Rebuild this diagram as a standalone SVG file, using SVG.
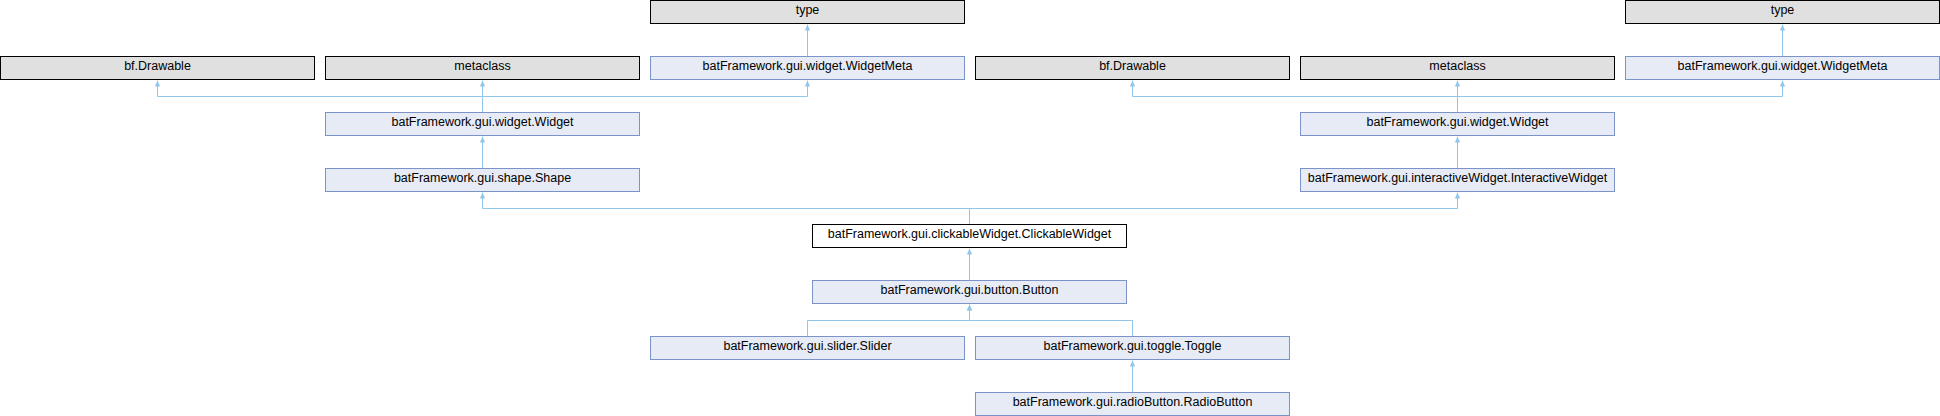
<svg xmlns="http://www.w3.org/2000/svg" width="1940" height="416" viewBox="0 0 1940 416">
<style>
.n rect{stroke-width:1}
.g rect{fill:#e0e0e0;stroke:#000000}
.b rect{fill:#e7ebf5;stroke:#7b93c8}
.w rect{fill:#ffffff;stroke:#000000}
text{font-family:"Liberation Sans",Arial,sans-serif;font-size:12.5px;fill:#000000;text-anchor:middle}
.e path{fill:none;stroke:#8fc6ea;stroke-width:1}
</style>
<defs>
<marker id="arr" markerUnits="userSpaceOnUse" markerWidth="6" markerHeight="6" viewBox="0 0 6 6" refX="6" refY="3" orient="auto">
<path d="M0,0.4 L6,3 L0,5.6 z" fill="#8fc6ea"/>
</marker>
</defs>
<rect width="1940" height="416" fill="#ffffff"/>
<g class="e" id="connectors">
<path d="M807.5,56 V24.5" marker-end="url(#arr)"/>
<path d="M1782.5,56 V24.5" marker-end="url(#arr)"/>
<path d="M482.5,112 V96.5 H157.5 V80.5" marker-end="url(#arr)"/>
<path d="M482.5,112 V80.5" marker-end="url(#arr)"/>
<path d="M482.5,112 V96.5 H807.5 V80.5" marker-end="url(#arr)"/>
<path d="M1457.5,112 V96.5 H1132.5 V80.5" marker-end="url(#arr)"/>
<path d="M1457.5,112 V80.5" marker-end="url(#arr)"/>
<path d="M1457.5,112 V96.5 H1782.5 V80.5" marker-end="url(#arr)"/>
<path d="M482.5,168 V136.5" marker-end="url(#arr)"/>
<path d="M1457.5,168 V136.5" marker-end="url(#arr)"/>
<path d="M969.5,224 V208.5 H482.5 V192.5" marker-end="url(#arr)"/>
<path d="M969.5,224 V208.5 H1457.5 V192.5" marker-end="url(#arr)"/>
<path d="M969.5,280 V248.5" marker-end="url(#arr)"/>
<path d="M807.5,336 V320.5 H969.5 V304.5" marker-end="url(#arr)"/>
<path d="M1132.5,336 V320.5 H969.5 V304.5" marker-end="url(#arr)"/>
<path d="M1132.5,392 V360.5" marker-end="url(#arr)"/>
</g>
<g id="type1" class="n g"><rect x="650.5" y="0.5" width="314" height="23"/><text x="807.5" y="14">type</text></g>
<g id="type2" class="n g"><rect x="1625.5" y="0.5" width="314" height="23"/><text x="1782.5" y="14">type</text></g>
<g id="drawable1" class="n g"><rect x="0.5" y="56.5" width="314" height="23"/><text x="157.5" y="70">bf.Drawable</text></g>
<g id="metaclass1" class="n g"><rect x="325.5" y="56.5" width="314" height="23"/><text x="482.5" y="70">metaclass</text></g>
<g id="widgetmeta1" class="n b"><rect x="650.5" y="56.5" width="314" height="23"/><text x="807.5" y="70">batFramework.gui.widget.WidgetMeta</text></g>
<g id="drawable2" class="n g"><rect x="975.5" y="56.5" width="314" height="23"/><text x="1132.5" y="70">bf.Drawable</text></g>
<g id="metaclass2" class="n g"><rect x="1300.5" y="56.5" width="314" height="23"/><text x="1457.5" y="70">metaclass</text></g>
<g id="widgetmeta2" class="n b"><rect x="1625.5" y="56.5" width="314" height="23"/><text x="1782.5" y="70">batFramework.gui.widget.WidgetMeta</text></g>
<g id="widget1" class="n b"><rect x="325.5" y="112.5" width="314" height="23"/><text x="482.5" y="126">batFramework.gui.widget.Widget</text></g>
<g id="widget2" class="n b"><rect x="1300.5" y="112.5" width="314" height="23"/><text x="1457.5" y="126">batFramework.gui.widget.Widget</text></g>
<g id="shape" class="n b"><rect x="325.5" y="168.5" width="314" height="23"/><text x="482.5" y="182">batFramework.gui.shape.Shape</text></g>
<g id="interactive" class="n b"><rect x="1300.5" y="168.5" width="314" height="23"/><text x="1457.5" y="182">batFramework.gui.interactiveWidget.InteractiveWidget</text></g>
<g id="clickable" class="n w"><rect x="812.5" y="224.5" width="314" height="23"/><text x="969.5" y="238">batFramework.gui.clickableWidget.ClickableWidget</text></g>
<g id="button" class="n b"><rect x="812.5" y="280.5" width="314" height="23"/><text x="969.5" y="294">batFramework.gui.button.Button</text></g>
<g id="slider" class="n b"><rect x="650.5" y="336.5" width="314" height="23"/><text x="807.5" y="350">batFramework.gui.slider.Slider</text></g>
<g id="toggle" class="n b"><rect x="975.5" y="336.5" width="314" height="23"/><text x="1132.5" y="350">batFramework.gui.toggle.Toggle</text></g>
<g id="radio" class="n b"><rect x="975.5" y="392.5" width="314" height="23"/><text x="1132.5" y="406">batFramework.gui.radioButton.RadioButton</text></g>
</svg>
